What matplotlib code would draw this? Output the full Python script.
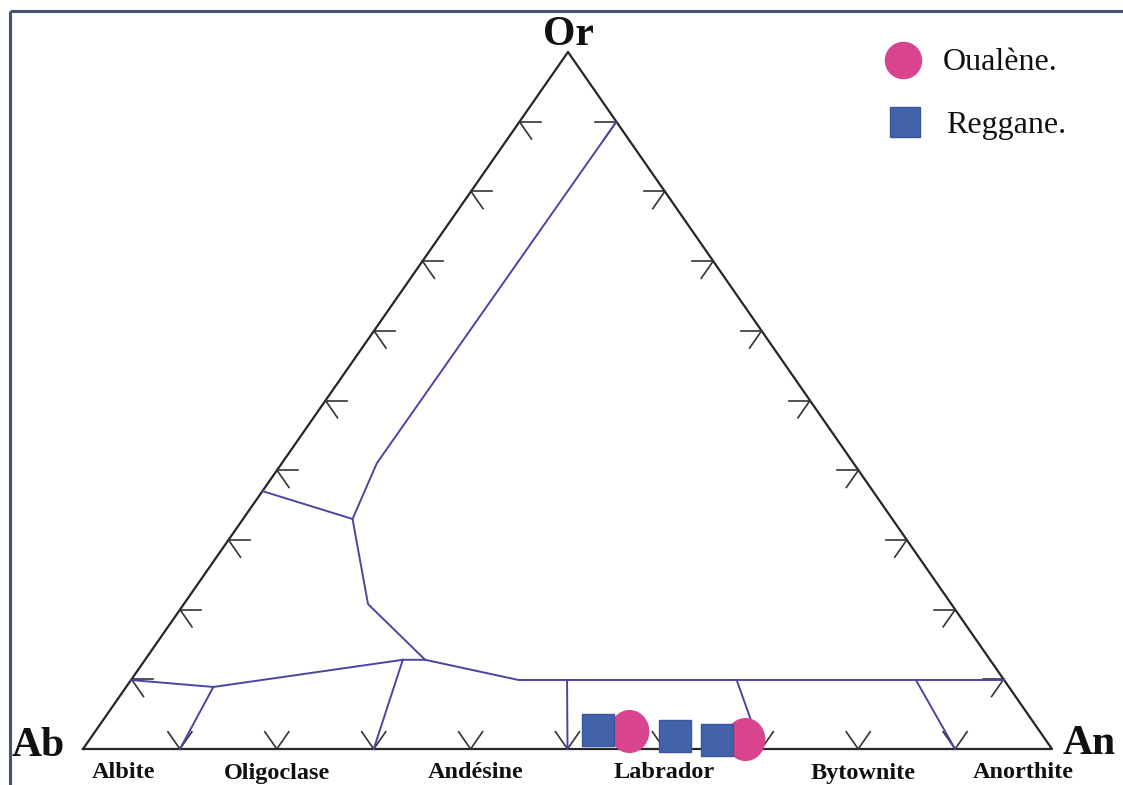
import matplotlib
matplotlib.use("Agg")
import matplotlib.pyplot as plt
import numpy as np
from matplotlib.path import Path

# ---- data: compositions as (An fraction, Or fraction); Ab = 1 - An - Or ----
# Feldspar field boundaries (each list is one polyline)
boundaries = [
    [(0.10, 0.90), (0.098, 0.41), (0.113, 0.33), (0.19, 0.208), (0.289, 0.128),
     (0.40, 0.099), (0.901, 0.099)],
    [(0.0, 0.37), (0.113, 0.33)],
    [(0.0, 0.099), (0.09, 0.089), (0.266, 0.128), (0.289, 0.128)],
    [(0.09, 0.089), (0.10, 0.0)],
    [(0.266, 0.128), (0.30, 0.0)],
    [(0.45, 0.099), (0.50, 0.0)],
    [(0.625, 0.099), (0.70, 0.0)],
    [(0.81, 0.099), (0.90, 0.0)],
]

# Samples
oualene_an = [0.55, 0.676]
oualene_or = [0.026, 0.014]
reggane_an = [0.518, 0.601, 0.648]
reggane_or = [0.027, 0.019, 0.013]

# Plagioclase names along the Ab-An join (An fraction at label centre)
plag_names = ["Albite", "Oligoclase", "Andésine", "Labrador", "Bytownite", "Anorthite"]
plag_an = [0.042, 0.20, 0.405, 0.60, 0.805, 0.97]

tick_fracs = [0.1, 0.2, 0.3, 0.4, 0.5, 0.6, 0.7, 0.8, 0.9]

# ---- layout ----
W, H = 1123, 785
AB = np.array([83.0, 749.0])
AN = np.array([1052.0, 749.0])
OR = np.array([568.0, 52.0])


def tern(an, orr):
    an = np.asarray(an, float)
    orr = np.asarray(orr, float)
    ab = 1 - an - orr
    x = ab * AB[0] + an * AN[0] + orr * OR[0]
    y = ab * AB[1] + an * AN[1] + orr * OR[1]
    return x, y


fig = plt.figure(figsize=(W / 100, H / 100), dpi=100)
ax = fig.add_axes([0, 0, 1, 1])
ax.set_xlim(0, W)
ax.set_ylim(H, 0)
ax.axis("off")

# page frame
ax.plot([10, W], [11, 11], color="#44546a", lw=2.2, solid_capstyle="butt")
ax.plot([10, 10], [11, H], color="#44546a", lw=2.2, solid_capstyle="butt")

edge_col = "#262626"
tri = np.array([AB, AN, OR, AB])
ax.plot(tri[:, 0], tri[:, 1], color=edge_col, lw=1.6, zorder=2)

# tick directions: along each side of the triangle
d_left = (OR - AB) / np.linalg.norm(OR - AB)    # up-right
d_right = (OR - AN) / np.linalg.norm(OR - AN)   # up-left
L = 21
tk = dict(color="#333333", lw=1.2, zorder=2)
for f in tick_fracs:
    # base: V opening upward
    bx, by = tern(f, 0.0)
    p = np.array([bx, by])
    for d in (d_right, d_left):
        q = p + d * L
        ax.plot([p[0], q[0]], [p[1], q[1]], **tk)
    # left side: horizontal arm + arm parallel to Or-An side
    lx, ly = tern(0.0, f)
    p = np.array([lx, ly])
    for d in (np.array([1.0, 0.0]), -d_right):
        q = p + d * L
        ax.plot([p[0], q[0]], [p[1], q[1]], **tk)
    # right side: horizontal arm + arm parallel to Ab-Or side
    rx, ry = tern(1 - f, f)
    p = np.array([rx, ry])
    for d in (np.array([-1.0, 0.0]), -d_left):
        q = p + d * L
        ax.plot([p[0], q[0]], [p[1], q[1]], **tk)

# field boundaries
for line in boundaries:
    a = [p[0] for p in line]
    o = [p[1] for p in line]
    x, y = tern(a, o)
    ax.plot(x, y, color="#4a46a0", lw=1.4, zorder=3)

# sample markers
pink = "#d8448e"
blue = "#4262a9"
t = np.linspace(0, 2 * np.pi, 60)
ellipse = Path(np.column_stack([0.46 * np.cos(t), 0.5 * np.sin(t)]))
x, y = tern(oualene_an, oualene_or)
ax.plot(x, y, ls="none", marker=ellipse, ms=30, mfc=pink, mec=pink, zorder=4)
x, y = tern(reggane_an, reggane_or)
ax.plot(x, y, ls="none", marker="s", ms=23, mfc=blue, mec="#3a56a0", mew=1.0, zorder=5)

# vertex labels
vfont = dict(family="Liberation Serif", weight="bold", fontsize=30, color="#111111")
ax.text(OR[0], OR[1] - 17, "Or", ha="center", va="center", **vfont)
ax.text(12, AB[1] - 3, "Ab", ha="left", va="center", **vfont)
ax.text(1063, AN[1] - 5, "An", ha="left", va="center", **vfont)

# plagioclase names
for name, a in zip(plag_names, plag_an):
    x, _ = tern(a, 0.0)
    ax.text(x, 773, name, ha="center", va="center", family="Liberation Serif",
            weight="bold", fontsize=17.5, color="#111111")

# legend
ax.plot([903], [60], ls="none", marker="o", ms=26, mfc=pink, mec=pink)
ax.text(943, 63, "Oualène.", ha="left", va="center", family="Liberation Serif",
        fontsize=23, color="#111111")
ax.plot([905], [122], ls="none", marker="s", ms=22, mfc=blue, mec="#3a56a0", mew=1.0)
ax.text(946, 126, "Reggane.", ha="left", va="center", family="Liberation Serif",
        fontsize=23, color="#111111")

fig.savefig("out.png", dpi=100)
